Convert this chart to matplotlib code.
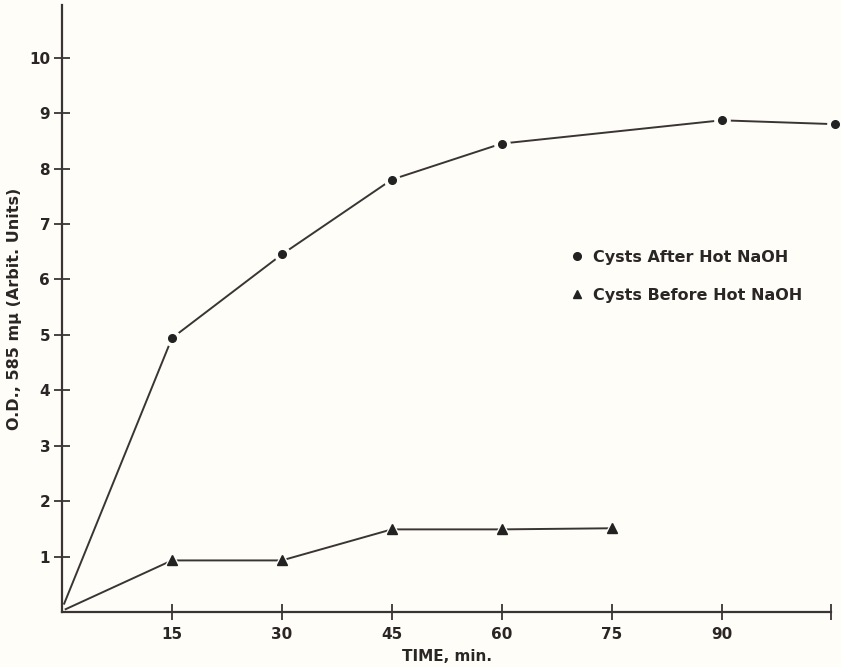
import matplotlib.pyplot as plt
from matplotlib.lines import Line2D

# values
time_after = [0.3, 15, 30, 45, 60, 90, 105.5]
od_after = [0.15, 4.94, 6.45, 7.8, 8.45, 8.87, 8.8]
time_before = [0.5, 15, 30, 45, 60, 75]
od_before = [0.05, 0.93, 0.93, 1.49, 1.49, 1.51]
x_ticks = [15, 30, 45, 60, 75, 90]
y_ticks = [1, 2, 3, 4, 5, 6, 7, 8, 9, 10]

bg = '#fffdf8'
ink = '#3a3535'

plt.rcParams['font.family'] = ['DejaVu Sans']
fig = plt.figure(figsize=(8.41, 6.67), dpi=100, facecolor=bg)
ax = fig.add_axes([0.0737, 0.0825, 0.915, 0.91])
ax.set_facecolor(bg)

# lines, then a background blob to cut a gap, then the marker itself
ax.plot(time_after, od_after, color=ink, lw=1.4, zorder=2, clip_on=False)
ax.plot(time_after[1:], od_after[1:], 'o', ms=11, color=bg, zorder=3, clip_on=False)
ax.plot(time_after[1:], od_after[1:], 'o', ms=5.5, color='#222', zorder=4, clip_on=False)
ax.plot(time_before, od_before, color=ink, lw=1.4, zorder=2, clip_on=False)
ax.plot(time_before[1:], od_before[1:], '^', ms=12, color=bg, zorder=3, clip_on=False)
ax.plot(time_before[1:], od_before[1:], '^', ms=6.5, color='#222', zorder=4, clip_on=False)

ax.set_xlim(0, 105)
ax.set_ylim(0, 10.95)
ax.spines['top'].set_visible(False)
ax.spines['right'].set_visible(False)
for s in ('left', 'bottom'):
    ax.spines[s].set_color(ink)
    ax.spines[s].set_linewidth(1.6)

ax.set_xticks(x_ticks + [105])
ax.set_xticklabels([str(t) for t in x_ticks] + [''])
ax.set_yticks(y_ticks)
ax.tick_params(direction='inout', length=11, width=1.3, color=ink,
               labelsize=11, labelcolor='#2a2626')
ax.tick_params(axis='x', pad=5)
ax.tick_params(axis='y', pad=3)
for lbl in ax.get_xticklabels() + ax.get_yticklabels():
    lbl.set_fontweight('bold')

ax.set_xlabel('TIME, min.', fontsize=11, fontweight='bold', color='#2a2626',
              labelpad=5)
ax.set_ylabel('O.D., 585 m\u03bc (Arbit. Units)', fontsize=11.5,
              fontweight='bold', color='#2a2626', labelpad=5)

handles = [
    Line2D([], [], ls='none', marker='o', ms=5.5, color='#222'),
    Line2D([], [], ls='none', marker='^', ms=6, color='#222'),
]
fig.legend(handles, ['Cysts After Hot NaOH', 'Cysts Before Hot NaOH'],
           loc='upper left', bbox_to_anchor=(0.66, 0.647), frameon=False,
           handletextpad=0.5, handlelength=1.0, labelspacing=1.45,
           prop={'weight': 'bold', 'size': 11.5}, labelcolor='#2a2626')

fig.savefig('out.png', dpi=100, facecolor=bg)
